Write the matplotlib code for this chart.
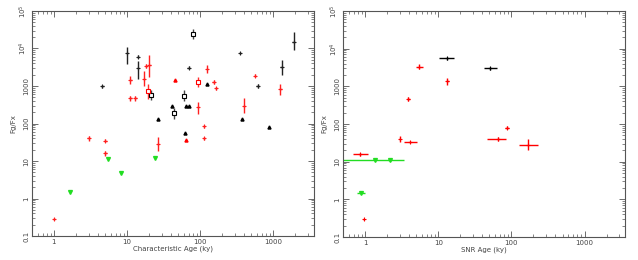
import numpy as np
import matplotlib.pyplot as plt

# ---- left panel: characteristic age ----
blk_x = [4.6, 10, 14.2, 14.2, 70, 350, 610, 1300, 1900]
blk_y = [975, 7400, 6100, 3000, 3100, 7450, 985, 3300, 14500]
blk_lo = [880, 3800, 5600, 1500, 2800, 7000, 880, 1950, 8900]
blk_hi = [1080, 10700, 6700, 4700, 3500, 7900, 1100, 4900, 27500]

blk_sq_x = [21.5, 43.6, 59.7, 79]
blk_sq_y = [570, 185, 545, 24500]
blk_sq_lo = [420, 130, 390, 18000]
blk_sq_hi = [780, 260, 760, 33000]

blk_tri_x = [26.7, 41.3, 64, 71, 124, 370, 870, 62]
blk_tri_y = [130, 285, 295, 295, 1110, 135, 83, 57]

red_x = [11.1, 11.1, 13, 17, 18.2, 20.2, 93, 124, 153, 165, 400, 560, 1250,
         3, 5.07, 5.07, 26.6, 113, 113, 1]
red_y = [1450, 470, 465, 1500, 3450, 3700, 270, 2800, 1240, 860, 295, 1900, 820,
         40, 35, 16, 28.5, 40, 85, 0.29]
red_lo = [1150, 410, 400, 980, 3100, 1700, 180, 2200, 1100, 800, 195, 1750, 560,
          34, 32, 14, 19, 36, 78, 0.27]
red_hi = [1800, 540, 540, 2500, 3800, 6600, 380, 3600, 1400, 920, 490, 2050, 1150,
          47, 38, 18, 43, 45, 93, 0.31]

red_sq_x = [19.2, 93]
red_sq_y = [740, 1290]
red_sq_lo = [450, 930]
red_sq_hi = [1100, 1750]

red_tri_x = [45.4, 64]
red_tri_y = [1420, 36]

grn_x = [5.5, 24.4, 8.2, 1.66]
grn_y = [11, 11.8, 4.7, 1.5]

# ---- right panel: SNR age ----
r_blk_x = [13.2, 51.5]
r_blk_y = [5600, 3000]
r_blk_xlo = [10.1, 42]
r_blk_xhi = [16.2, 63]

r_red_x = [5.5, 13.2, 3.9, 88, 2.95, 4.1, 66, 167, 0.855, 0.95]
r_red_y = [3300, 1380, 460, 79, 40, 33, 39, 28, 15.7, 0.295]
r_red_xlo = [5.0, 12.6, 3.7, 82, 2.9, 3.35, 46, 126, 0.69, 0.93]
r_red_xhi = [6.1, 13.8, 4.1, 94, 3.0, 5.1, 83, 229, 1.09, 0.97]
r_red_ylo = [2800, 1070, 410, 72, 34, 31, 35, 20, 14, 0.28]
r_red_yhi = [3800, 1700, 510, 86, 47, 35, 44, 40, 17.5, 0.31]

r_grn_x = [1.37, 2.15, 0.87]
r_grn_y = [11.1, 11.1, 1.47]
r_grn_xlo = [0.3, 2.05, 0.77]
r_grn_xhi = [3.35, 2.25, 1.0]


def asym(v, lo, hi):
    v = np.array(v)
    return [v - np.array(lo), np.array(hi) - v]


def style_axis(ax, xlabel):
    ax.set_xscale('log')
    ax.set_yscale('log')
    ax.set_xlim(0.5, 3600)
    ax.set_ylim(0.1, 1e5)
    ax.set_xticks([1, 10, 100, 1000])
    ax.set_xticklabels(['1', '10', '100', '1000'])
    ax.set_yticks([0.1, 1, 10, 100, 1000, 1e4, 1e5])
    ax.set_yticklabels(['0.1', '1', '10', '100', '1000', '10$^4$', '10$^5$'],
                       rotation=90, va='center')
    ax.tick_params(which='both', direction='in', top=True, right=True,
                   labelsize=5, labelcolor='#444444', color='#555555', pad=2)
    ax.tick_params(which='major', length=4, width=0.6)
    ax.tick_params(which='minor', length=2, width=0.5)
    for s in ax.spines.values():
        s.set_color('#555555')
        s.set_linewidth(0.8)
    ax.set_xlabel(xlabel, fontsize=5, color='#444444', labelpad=0.5)
    ax.set_ylabel('Fg/Fx', fontsize=5, color='#444444', labelpad=1)


fig = plt.figure(figsize=(6.38, 2.6), dpi=100)
ax1 = fig.add_axes([0.050, 0.092, 0.442, 0.866])
ax2 = fig.add_axes([0.538, 0.088, 0.442, 0.870])

kw = dict(lw=0, elinewidth=1.0, capsize=0, ms=2.2)
ax1.errorbar(blk_x, blk_y, yerr=asym(blk_y, blk_lo, blk_hi), xerr=np.array(blk_x) * 0.04,
             fmt='+', color='#222222', mew=0.8, **kw)
ax1.errorbar(blk_sq_x, blk_sq_y, yerr=asym(blk_sq_y, blk_sq_lo, blk_sq_hi),
             fmt='s', color='#444444', mfc='white', mec='black', mew=0.8, **kw)
ax1.plot(blk_tri_x, blk_tri_y, '^', color='black', ms=2.2)
ax1.errorbar(red_x, red_y, yerr=asym(red_y, red_lo, red_hi), xerr=np.array(red_x) * 0.04,
             fmt='+', color='#ff2020', mew=0.8, **kw)
ax1.errorbar(red_sq_x, red_sq_y, yerr=asym(red_sq_y, red_sq_lo, red_sq_hi),
             fmt='s', color='#ff3030', mfc='white', mec='red', mew=0.8, **kw)
ax1.plot(red_tri_x, red_tri_y, '^', color='red', ms=2.2)
ax1.plot(grn_x, grn_y, 'v', color='#22dd22', ms=2.8)
style_axis(ax1, 'Characteristic Age (ky)')

ax2.errorbar(r_blk_x, r_blk_y, xerr=asym(r_blk_x, r_blk_xlo, r_blk_xhi),
             yerr=np.array(r_blk_y) * 0.1, fmt='+', color='black', mew=0.8, **kw)
ax2.errorbar(r_red_x, r_red_y, xerr=asym(r_red_x, r_red_xlo, r_red_xhi),
             yerr=asym(r_red_y, r_red_ylo, r_red_yhi), fmt='+', color='red', mew=0.8, **kw)
ax2.errorbar(r_grn_x, r_grn_y, xerr=asym(r_grn_x, r_grn_xlo, r_grn_xhi),
             fmt='v', color='#22dd22', lw=0, elinewidth=1.0, capsize=0, ms=2.8)
style_axis(ax2, 'SNR Age (ky)')

fig.savefig('out.png', dpi=100)
